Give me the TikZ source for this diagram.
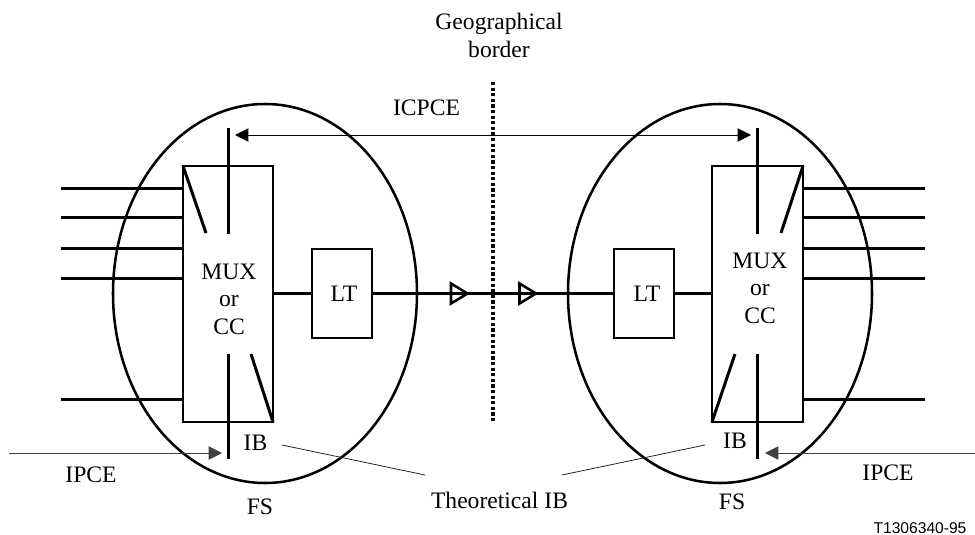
\documentclass[tikz,border=0pt]{standalone}
\usepackage{fontspec}
\setmainfont{Liberation Serif}
\newfontfamily\labelsans{Liberation Sans}
\usetikzlibrary{arrows.meta}
\tikzset{
  x=0.75pt,y=-0.75pt,
  thickline/.style={line width=2.25pt,black},
  ringline/.style={line width=1.9pt,black},
  thinline/.style={line width=0.75pt,black!75},
  solidtip/.style={-{Triangle[length=10pt,width=10pt]}},
  hollowtip/.style={draw=black,line width=1.9pt,line join=miter},
  muxbox/.style={draw=black,line width=1.4pt,outer sep=0pt,inner sep=0pt,minimum height=192pt},
  ltbox/.style={draw=black,line width=1.4pt,outer sep=0pt,inner sep=0pt,minimum width=45pt,minimum height=66.75pt},
  lab/.style={font=\fontsize{17.7pt}{20.6pt}\selectfont,inner sep=0pt,align=center},
  baselab/.style={lab,anchor=base},
}
\begin{document}
\begin{tikzpicture}
\useasboundingbox (0,0) rectangle (975,535);
\fill[white] (0,0) rectangle (975,535);
% ellipses
\draw[ringline] (265,293.5) ellipse [x radius=152,y radius=189.5];
\draw[ringline] (720,293.5) ellipse [x radius=152,y radius=189.5];
% border
\coordinate (bt) at (493,82); \coordinate (bb) at (493,422);
\draw[line width=2.7pt,dash pattern=on 2.4pt off 1.8pt] (bt) -- (bb);
% boxes
\node[muxbox,minimum width=67.5pt] (lmux) at (228,294) {};
\node[ltbox] (llt) at (342,293.5) {};
\node[muxbox,minimum width=68.25pt] (rmux) at (757.5,294) {};
\node[ltbox] (rlt) at (644,293.5) {};
% tributaries
\foreach \n/\y in {a/188,b/217,c/248,d/278,e/399}{
  \coordinate (l\n) at (61,\y); \coordinate (lm\n) at (183,\y);
  \draw[thickline] (l\n) -- (lm\n);
  \coordinate (r\n) at (925,\y); \coordinate (rm\n) at (803,\y);
  \draw[thickline] (r\n) -- (rm\n);
}
% internals left
\coordinate (lv1) at (228.5,128); \coordinate (lv2) at (228.5,234);
\coordinate (lv3) at (228.5,354); \coordinate (lv4) at (228.5,459);
\draw[thickline] (lv1) -- (lv2);
\draw[thickline] (lv3) -- (lv4);
\coordinate (ld1) at (206,233); \coordinate (ld2) at (251,354);
\draw[thickline] (lmux.north west) -- (ld1);
\draw[thickline] (lmux.south east) -- (ld2);
% internals right
\coordinate (rv1) at (757,128); \coordinate (rv2) at (757,234);
\coordinate (rv3) at (757,354); \coordinate (rv4) at (757,459);
\draw[thickline] (rv1) -- (rv2);
\draw[thickline] (rv3) -- (rv4);
\coordinate (rd1) at (781,233); \coordinate (rd2) at (735,354);
\draw[thickline] (rmux.north east) -- (rd1);
\draw[thickline] (rmux.south west) -- (rd2);
% line path
\draw[thickline] (lmux.east |- llt.west) -- (llt.west);
\draw[thickline] (rmux.west |- rlt.east) -- (rlt.east);
\draw[thickline] (llt.east) -- (rlt.west);
\draw[hollowtip] (451,283.5) -- (467.5,293.5) -- (451,303.5) -- cycle;
\draw[hollowtip] (519.5,283.5) -- (536,293.5) -- (519.5,303.5) -- cycle;
% arrows
\coordinate (ia) at (235,135); \coordinate (ib) at (751,135);
\draw[line width=0.75pt,black,{Triangle[length=10pt,width=10pt]}-{Triangle[length=10pt,width=10pt]}] (ia) -- (ib);
\coordinate (pa) at (9,453); \coordinate (pb) at (222,453);
\draw[thinline,solidtip] (pa) -- (pb);
\coordinate (qa) at (975,453); \coordinate (qb) at (765,453);
\draw[thinline,solidtip] (qa) -- (qb);
\coordinate (ta) at (282,445); \coordinate (tb) at (425,475);
\draw[line width=0.6pt,black!85] (ta) -- (tb);
\coordinate (tc) at (705,445); \coordinate (td) at (562,475);
\draw[line width=0.6pt,black!85] (tc) -- (td);
% labels
\node[lab] (t1) at (499,35.5) {Geographical\\border};
\node[baselab] (t2) at (426.5,116) {ICPCE};
\node[lab] (m1) at (229,299) {MUX\\or\\CC};
\node[lab] (m2) at (760,288) {MUX\\or\\CC};
\node[baselab] (lt1) at (344,301) {LT};
\node[baselab] (lt2) at (647,301) {LT};
\node[baselab] (ib1) at (255.5,450) {IB};
\node[baselab] (ib2) at (735,448) {IB};
\node[baselab] (ip1) at (91,482) {IPCE};
\node[baselab] (ip2) at (888,480) {IPCE};
\node[baselab] (fs1) at (260,514) {FS};
\node[baselab] (fs2) at (732,509) {FS};
\node[baselab] (th) at (499.5,508) {Theoretical IB};
\node[anchor=base,inner sep=0pt,font=\labelsans\fontsize{11.7pt}{14pt}\selectfont] (code) at (920,533) {T1306340-95};
\end{tikzpicture}
\end{document}
